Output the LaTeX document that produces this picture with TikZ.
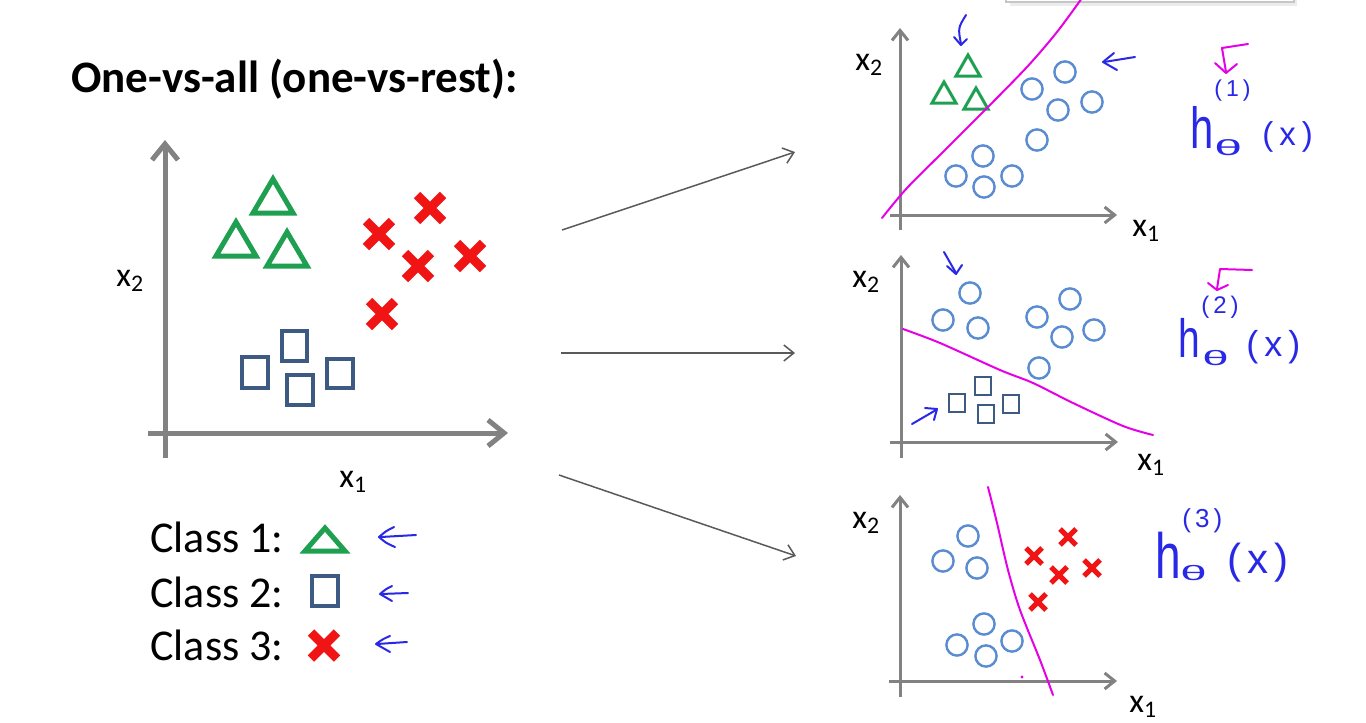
\documentclass[tikz,border=0pt]{standalone}
\usepackage{fontspec}
\setmainfont{Carlito}
\newfontfamily\handfont{Liberation Sans}
\usetikzlibrary{arrows.meta}
\definecolor{triG}{RGB}{30,160,80}
\definecolor{crossR}{RGB}{240,20,20}
\definecolor{sqB}{RGB}{60,90,130}
\definecolor{circB}{RGB}{90,140,210}
\definecolor{axisG}{RGB}{130,130,130}
\definecolor{magL}{RGB}{230,0,230}
\definecolor{handB}{RGB}{40,40,230}
\definecolor{arrG}{RGB}{90,90,90}
\newcommand{\mytri}[5]{\draw[#1] ({#2-#4/2},#3) -- ({#2+#4/2},#3) -- (#2,{#3-#5}) -- cycle;}
\newcommand{\mycross}[4]{\draw[#1] ({#2-#4},{#3-#4}) -- ({#2+#4},{#3+#4}) ({#2-#4},{#3+#4}) -- ({#2+#4},{#3-#4});}
\newcommand{\mysq}[5]{\draw[#1] ({#2-#4/2},{#3-#5/2}) rectangle ({#2+#4/2},{#3+#5/2});}
\newcommand{\hh}{\scalebox{0.72}[1]{h}}
\newcommand{\tth}{\scalebox{1.25}[0.55]{θ}}
\tikzset{
  triL/.style={draw=triG, line width=2.5pt},
  triS/.style={draw=triG, line width=1.5pt},
  crossL/.style={draw=crossR, line width=4.5pt},
  crossS/.style={draw=crossR, line width=2.5pt},
  sqL/.style={draw=sqB, line width=2pt},
  sqS/.style={draw=sqB, line width=1.1pt},
  circS/.style={draw=circB, line width=1.2pt},
  axisL/.style={draw=axisG, line width=2.5pt, -{Straight Barb[length=8pt,width=13pt]}},
  axisS/.style={draw=axisG, line width=1.5pt, -{Straight Barb[length=5pt,width=8pt]}},
  mag/.style={draw=magL, line width=1pt, line cap=round, line join=round},
  hand/.style={draw=handB, line width=1pt, line cap=round, line join=round},
  conn/.style={draw=arrG, line width=0.75pt, -{Straight Barb[length=5pt,width=8pt]}},
  lbl/.style={anchor=base west, inner sep=0pt, font=\fontsize{17}{20}\selectfont},
  hw/.style={anchor=base west, inner sep=0pt, text=handB},
}
\begin{document}
\begin{tikzpicture}[x=0.5pt,y=-0.5pt]
\useasboundingbox (0,0) rectangle (1366,723);
\fill[white] (0,0) rectangle (1366,723);

% top-right box remnant
\fill[gray!15] (1010,-10) rectangle (1297,6);
\draw[fill=white, draw=gray!45, line width=0.6pt] (1006,-10) rectangle (1294,2);

% title
\node[anchor=base west, inner sep=0pt, font=\bfseries\fontsize{22.5}{27}\selectfont] (title) at (71,92) {One-vs-all (one-vs-rest):};

% ===== left plot =====
\draw[axisL] (148,433) -- (508,433);
\draw[axisL] (165,458) -- (165,140);
\node[lbl] (lx2) at (116,286) {x\textsubscript{2}};
\node[lbl] (lx1) at (339,487) {x\textsubscript{1}};

\mytri{triL}{273}{213}{40}{34}
\mytri{triL}{236}{256}{40}{34}
\mytri{triL}{287}{266}{40}{34}

\mycross{crossL}{430}{208}{13}
\mycross{crossL}{379}{234}{13}
\mycross{crossL}{418}{266}{13}
\mycross{crossL}{470}{256}{13}
\mycross{crossL}{382}{314}{13}

\mysq{sqL}{255}{372}{26}{31}
\mysq{sqL}{294.5}{346}{25}{30}
\mysq{sqL}{300}{390}{26}{30}
\mysq{sqL}{340}{373.5}{26}{29}

% legend
\node[anchor=base west, inner sep=0pt, font=\fontsize{22}{26}\selectfont] (c1) at (150,552) {Class 1:};
\node[anchor=base west, inner sep=0pt, font=\fontsize{22}{26}\selectfont] (c2) at (150,607) {Class 2:};
\node[anchor=base west, inner sep=0pt, font=\fontsize{22}{26}\selectfont] (c3) at (150,660) {Class 3:};
\mytri{triL}{325}{551}{40}{23}
\mysq{sqL}{324.5}{590.5}{26}{30}
\mycross{crossL}{324}{645.5}{13}

% legend hand arrows
\draw[hand] (416,535) -- (381,537);
\draw[hand] (394,527) .. controls (386,531) .. (379,537) .. controls (386,543) .. (395,547);
\draw[hand] (408,593) -- (381,594);
\draw[hand] (392,586) .. controls (386,589) .. (380,594) .. controls (386,598) .. (392,601);
\draw[hand] (407,642) -- (377,644);
\draw[hand] (390,636) .. controls (383,639) .. (376,644) .. controls (383,648) .. (390,652);

% ===== connectors =====
\coordinate (s1) at (562,230);
\coordinate (e1) at (795,152);
\coordinate (s2) at (561,353);
\coordinate (e2) at (795,353);
\coordinate (s3) at (559,475);
\coordinate (e3) at (796,556);
\draw[conn] (s1) -- (e1);
\draw[conn] (s2) -- (e2);
\draw[conn] (s3) -- (e3);

% ===== panel 1 =====
\draw[axisS] (890,215) -- (1117,215);
\draw[axisS] (900,230) -- (900,28);
\node[lbl] (p1x2) at (855,70) {x\textsubscript{2}};
\node[lbl] (p1x1) at (1132,236) {x\textsubscript{1}};
\mytri{triS}{968}{76}{24}{21}
\mytri{triS}{944}{103}{24}{21}
\mytri{triS}{976}{109}{24}{21}
\foreach \p in {(1065,72),(1032,89),(1058,110),(1092,102),(1037,140),(983,156),(956,176),(984,187),(1012,176)}
  \draw[circS] \p circle[radius=5.3pt];
\draw[mag] plot[smooth] coordinates {(882,218) (907,188) (945,150) (983,112) (1027,67) (1057,32) (1082,-2)};
\draw[hand] (966,15) .. controls (958,28) .. (961,44);
\draw[hand] (954,37) -- (961,45) -- (967,39);
\draw[hand] (1135,57) -- (1104,62);
\draw[hand] (1114,53) -- (1103,62) -- (1117,70);
\draw[mag] (1248,44) -- (1222,48) -- (1226,72);
\draw[mag] (1215,63) -- (1226,73) -- (1237,64);
\node[hw, font=\handfont\fontsize{11.5}{14}\selectfont] (p1sup) at (1214,96) {(\hspace{2pt}1\hspace{2pt})};
\node[hw, font=\handfont\fontsize{29}{34}\selectfont] (p1h) at (1190,148) {\hh};
\node[hw, font=\handfont\fontsize{20}{22}\selectfont] (p1t) at (1214,155) {\tth};
\node[hw, font=\handfont\fontsize{16.5}{19}\selectfont] (p1x) at (1262,145) {(\hspace{3pt}x\hspace{3pt})};

% ===== panel 2 =====
\draw[axisS] (890,442) -- (1118,442);
\draw[axisS] (901,458) -- (901,255);
\node[lbl] (p2x2) at (852,287) {x\textsubscript{2}};
\node[lbl] (p2x1) at (1137,470) {x\textsubscript{1}};
\foreach \p in {(970,293),(943,320),(978,328),(1037,317),(1070,299),(1062,337),(1094,330),(1039,368)}
  \draw[circS] \p circle[radius=5.3pt];
\mysq{sqS}{983}{386}{16}{18}
\mysq{sqS}{957}{403}{16}{18}
\mysq{sqS}{986}{414}{16}{18}
\mysq{sqS}{1011}{404}{16}{18}
\draw[mag] plot[smooth, tension=0.5] coordinates {(903,329) (940,343) (1000,370) (1033,383) (1073,403) (1123,426) (1153,435)};
\draw[hand] (944,252) -- (956,273);
\draw[hand] (947,266) -- (956,274) -- (962,265);
\draw[hand] (912,424) -- (936,410);
\draw[hand] (925,408) -- (937,409) -- (934,420);
\draw[mag] (1252,270) -- (1220,269) -- (1217,289);
\draw[mag] (1208,283) -- (1217,290) -- (1228,285);
\node[hw, font=\handfont\fontsize{12}{14}\selectfont] (p2sup) at (1201,313) {(\hspace{2pt}2\hspace{2pt})};
\node[hw, font=\handfont\fontsize{27}{32}\selectfont] (p2h) at (1178,357) {\hh};
\node[hw, font=\handfont\fontsize{19}{21}\selectfont] (p2t) at (1202,365) {\tth};
\node[hw, font=\handfont\fontsize{18}{21}\selectfont] (p2x) at (1246,356) {(\hspace{3pt}x\hspace{3pt})};

% ===== panel 3 =====
\draw[axisS] (889,681) -- (1117,681);
\draw[axisS] (900,697) -- (900,495);
\node[lbl] (p3x2) at (852,528) {x\textsubscript{2}};
\node[lbl] (p3x1) at (1129,712) {x\textsubscript{1}};
\foreach \p in {(968,536),(943,561),(977,568),(984,624),(957,645),(986,656),(1012,641)}
  \draw[circS] \p circle[radius=5.3pt];
\mycross{crossS}{1034}{556}{8}
\mycross{crossS}{1068}{537}{8}
\mycross{crossS}{1059}{575}{8}
\mycross{crossS}{1092}{568}{8}
\mycross{crossS}{1038}{602}{8}
\draw[mag] plot[smooth] coordinates {(988,487) (997,523) (1008,570) (1020,610) (1040,660) (1053,695)};
\fill[magL] (1022,677) circle[radius=0.8pt];
\node[hw, font=\handfont\fontsize{13}{15}\selectfont] (p3sup) at (1182,527) {(\hspace{2pt}3\hspace{2pt})};
\node[hw, font=\handfont\fontsize{32}{38}\selectfont] (p3h) at (1155,578) {\hh};
\node[hw, font=\handfont\fontsize{19}{21}\selectfont] (p3t) at (1180,580) {\tth};
\node[hw, font=\handfont\fontsize{21}{25}\selectfont] (p3x) at (1227,573) {(\hspace{3pt}x\hspace{3pt})};
\end{tikzpicture}
\end{document}
